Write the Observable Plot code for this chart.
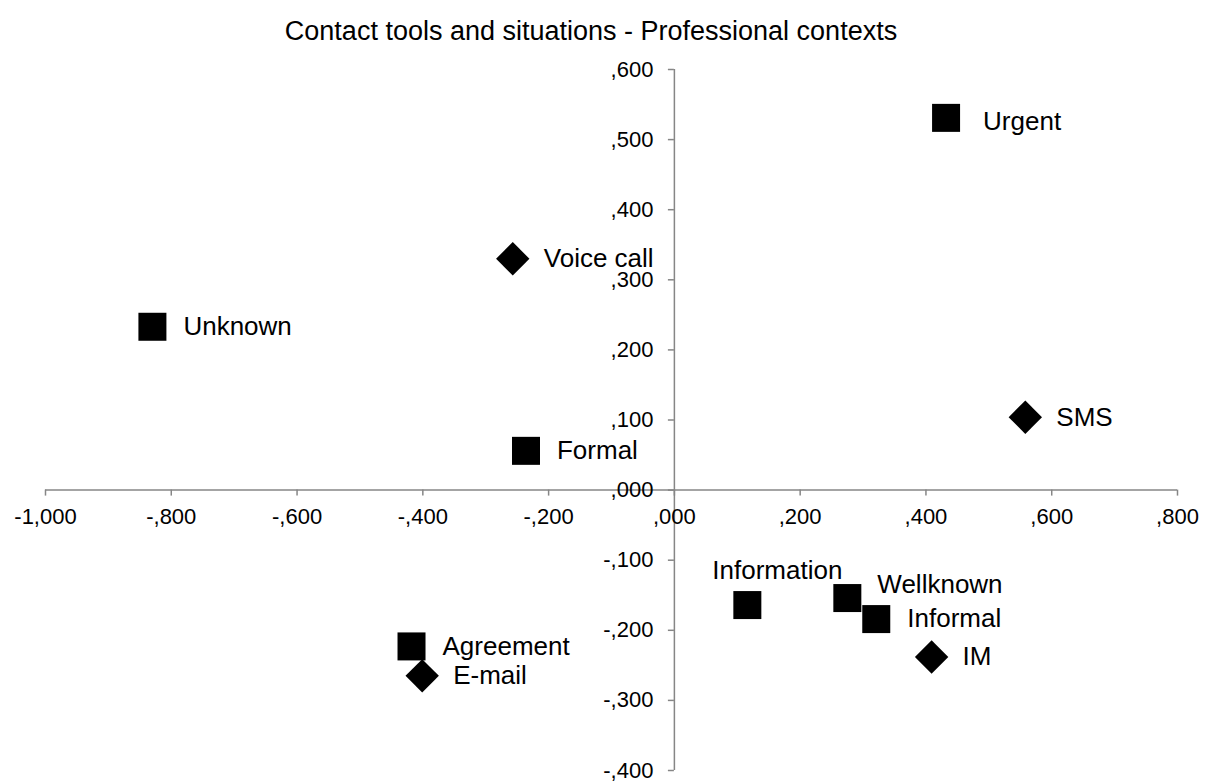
<!DOCTYPE html>
<html>
<head>
<meta charset="utf-8">
<script src="https://cdn.jsdelivr.net/npm/d3@7"></script>
<script src="https://cdn.jsdelivr.net/npm/@observablehq/plot@0.6"></script>
<style>
  html, body { margin: 0; padding: 0; background: #fff; }
  body { width: 1208px; height: 782px; overflow: hidden; font-family: "Liberation Sans", Arial, sans-serif; }
  #title { width: 1182px; height: 50px; box-sizing: border-box; padding-top: 17px; line-height: 28px; font-size: 27px; text-align: center; color: #000; white-space: nowrap; }
  #chart svg { display: block; }
</style>
</head>
<body>
<div id="title">Contact tools and situations - Professional contexts</div>
<div id="chart"></div>
<script>
// ---- data ----
const xTicks = [-1000, -800, -600, -400, -200, 0, 200, 400, 600, 800];
const xTickLabels = ["-1,000", "-,800", "-,600", "-,400", "-,200", ",000", ",200", ",400", ",600", ",800"];
const yTicks = [-400, -300, -200, -100, 0, 100, 200, 300, 400, 500, 600];
const yTickLabels = ["-,400", "-,300", "-,200", "-,100", ",000", ",100", ",200", ",300", ",400", ",500", ",600"];

// contact tools (diamonds)
const toolNames = ["Voice call", "SMS", "IM", "E-mail"];
const toolX = [-257, 558, 409, -401];
const toolY = [330, 104, -238, -265];

// situations (squares)
const situationNames = ["Urgent", "Unknown", "Formal", "Information", "Wellknown", "Informal", "Agreement"];
const situationX = [432, -830, -236, 116, 275, 321, -418];
const situationY = [531, 233, 56, -164, -154, -184, -223];

// ---- tables ----
const xTickTable = xTicks.map((v, i) => ({v, label: xTickLabels[i]}));
const yTickTable = yTicks.map((v, i) => ({v, label: yTickLabels[i]}));
const tools = toolNames.map((name, i) => ({name, x: toolX[i], y: toolY[i]}));
const situations = situationNames.map((name, i) => ({name, x: situationX[i], y: situationY[i]}));
const allPoints = situations.concat(tools);

// label placement tweaks (pixels)
const labelNudge = {
  "Urgent": {dx: 37, dy: 4, anchor: "start"},
  "Information": {dx: 30, dy: -34, anchor: "middle"},
  "Wellknown": {dx: 30, dy: -13, anchor: "start"}
};

const axisColor = "#868686";
const font = "'Liberation Sans', Arial, sans-serif";

const labelMarks = [
  Plot.text(allPoints.filter(d => !labelNudge[d.name]), {
    x: "x", y: "y", text: "name", dx: 31, textAnchor: "start",
    fontSize: 26, fill: "#000", fontFamily: font
  }),
  ...Object.entries(labelNudge).map(([name, o]) =>
    Plot.text(allPoints.filter(d => d.name === name), {
      x: "x", y: "y", text: "name", dx: o.dx, dy: o.dy, textAnchor: o.anchor,
      fontSize: 26, fill: "#000", fontFamily: font
    })
  )
];

const chart = Plot.plot({
  width: 1208,
  height: 732,
  marginTop: 19,
  marginBottom: 12,
  marginLeft: 45,
  marginRight: 31,
  style: {fontFamily: font, background: "#fff"},
  x: {domain: [-1000, 800], axis: null},
  y: {domain: [-400, 600], axis: null},
  marks: [
    Plot.ruleY([0], {stroke: axisColor, strokeWidth: 1.5}),
    Plot.ruleX([0], {stroke: axisColor, strokeWidth: 1.5}),
    Plot.ruleX(xTickTable, {x: "v", y1: 0, y2: 0, insetBottom: -6, stroke: axisColor, strokeWidth: 1.5}),
    Plot.ruleY(yTickTable, {y: "v", x1: 0, x2: 0, insetLeft: -6, stroke: axisColor, strokeWidth: 1.5}),
    Plot.text(xTickTable, {x: "v", y: 0, text: "label", dy: 27, textAnchor: "middle", fontSize: 22, fill: "#000", fontFamily: font}),
    Plot.text(yTickTable, {x: 0, y: "v", text: "label", dx: -21, textAnchor: "end", fontSize: 22, fill: "#000", fontFamily: font}),
    Plot.dot(situations, {x: "x", y: "y", symbol: "square", r: 15.8, fill: "#000", stroke: "none"}),
    Plot.dot(tools, {x: "x", y: "y", symbol: "diamond2", r: 15.04, fill: "#000", stroke: "none"}),
    ...labelMarks
  ]
});
document.getElementById("chart").appendChild(chart);
</script>
</body>
</html>
